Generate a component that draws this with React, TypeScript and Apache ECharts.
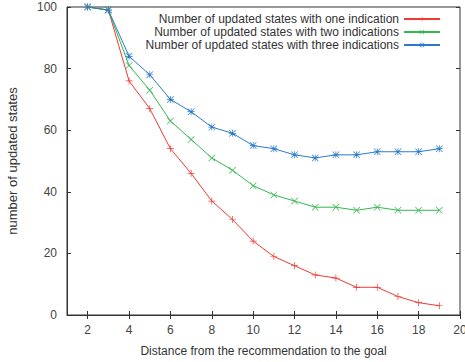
import React, { useEffect, useRef } from "react";
import * as echarts from "echarts";

const distances = [2, 3, 4, 5, 6, 7, 8, 9, 10, 11, 12, 13, 14, 15, 16, 17, 18, 19];
const oneIndication = [100, 99, 76, 67, 54, 46, 37, 31, 24, 19, 16, 13, 12, 9, 9, 6, 4, 3];
const twoIndications = [100, 99, 81, 73, 63, 57, 51, 47, 42, 39, 37, 35, 35, 34, 35, 34, 34, 34];
const threeIndications = [100, 99, 84, 78, 70, 66, 61, 59, 55, 54, 52, 51, 52, 52, 53, 53, 53, 54];
const xTickValues = [2, 4, 6, 8, 10, 12, 14, 16, 18, 20];
const seriesNames = [
  "Number of updated states with one indication",
  "Number of updated states with two indications",
  "Number of updated states with three indications",
];

const PLUS = "path://M4.5,0 H5.5 V4.5 H10 V5.5 H5.5 V10 H4.5 V5.5 H0 V4.5 H4.5 Z";
const CROSS = "path://M0,0.7 L0.7,0 L10,9.3 L9.3,10 Z M9.3,0 L10,0.7 L0.7,10 L0,9.3 Z";
const STAR =
  "path://M4.5,0 H5.5 V4.5 H10 V5.5 H5.5 V10 H4.5 V5.5 H0 V4.5 H4.5 Z M0,0.7 L0.7,0 L10,9.3 L9.3,10 Z M9.3,0 L10,0.7 L0.7,10 L0,9.3 Z";

const colors = ["#ee3b33", "#35b64f", "#2b7bc9"];
const symbols = [PLUS, CROSS, STAR];
const allData = [oneIndication, twoIndications, threeIndications];

export default function App() {
  const ref = useRef<HTMLDivElement>(null);
  useEffect(() => {
    const chart = echarts.init(ref.current!, null, { renderer: "svg" });
    const font = "Liberation Sans";
    const axisColor = "#333";
    chart.setOption({
      animation: false,
      backgroundColor: "#fff",
      textStyle: { fontFamily: font },
      grid: {
        left: 67,
        top: 7,
        right: 5,
        bottom: 47,
        outerBoundsMode: "none",
        containLabel: false,
        show: true,
        borderColor: axisColor,
        borderWidth: 1,
        backgroundColor: "transparent",
      },
      legend: {
        orient: "vertical",
        right: 19,
        top: 8,
        align: "right",
        itemWidth: 36,
        itemHeight: 6,
        itemGap: 1,
        textStyle: { fontFamily: font, fontSize: 12, color: "#333" },
        data: seriesNames,
      },
      xAxis: [
        {
          type: "value",
          min: 1,
          max: 20,
          interval: 1,
          name: "Distance from the recommendation to the goal",
          nameLocation: "middle",
          nameGap: 30,
          nameTextStyle: { fontFamily: font, fontSize: 12, color: "#333" },
          axisLine: { lineStyle: { color: axisColor } },
          axisTick: { inside: true, length: 4, customValues: xTickValues, lineStyle: { color: axisColor } },
          axisLabel: { customValues: xTickValues, fontFamily: font, fontSize: 12, color: "#444", margin: 9 },
          splitLine: { show: false },
        },
        {
          type: "value",
          position: "top",
          min: 1,
          max: 20,
          interval: 1,
          axisLine: { show: false },
          axisTick: { inside: true, length: 4, customValues: xTickValues, lineStyle: { color: axisColor } },
          axisLabel: { show: false },
          splitLine: { show: false },
        },
      ],
      yAxis: [
        {
          type: "value",
          min: 0,
          max: 100,
          interval: 20,
          name: "number of updated states",
          nameLocation: "middle",
          nameGap: 48,
          nameTextStyle: { fontFamily: font, fontSize: 13, color: "#333" },
          axisLine: { show: true, lineStyle: { color: axisColor } },
          axisTick: { show: true, inside: true, length: 4, lineStyle: { color: axisColor } },
          axisLabel: { fontFamily: font, fontSize: 12, color: "#444", margin: 10 },
          splitLine: { show: false },
        },
        {
          type: "value",
          position: "right",
          min: 0,
          max: 100,
          interval: 20,
          axisLine: { show: false },
          axisTick: { show: true, inside: true, length: 4, lineStyle: { color: axisColor } },
          axisLabel: { show: false },
          splitLine: { show: false },
        },
      ],
      series: seriesNames.map((name, i) => ({
        name,
        type: "line",
        data: distances.map((d, j) => [d, allData[i][j]]),
        symbol: symbols[i],
        symbolSize: 7,
        showAllSymbol: true,
        lineStyle: { color: colors[i], width: 1 },
        itemStyle: { color: colors[i] },
        z: 3 + i,
      })),
    });
    return () => chart.dispose();
  }, []);
  return <div ref={ref} style={{ width: 465, height: 362, position: "absolute", left: 0, top: 0 }} />;
}
